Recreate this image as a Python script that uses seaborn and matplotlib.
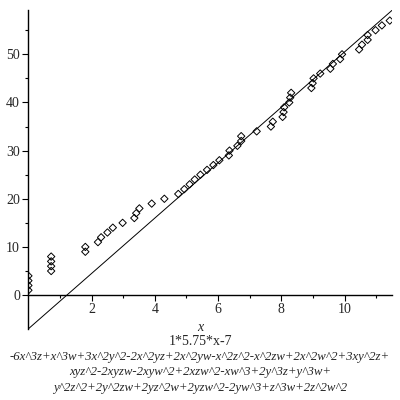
import matplotlib
matplotlib.use("Agg")
import matplotlib.pyplot as plt
import seaborn as sns
import numpy as np

# data: y is the running count, x the value
pts_x = [0, 0, 0, 0, 0.72, 0.72, 0.72, 0.72, 1.8, 1.8,
         2.2, 2.3, 2.5, 2.67, 2.98, 3.35, 3.41, 3.51, 3.9, 4.3,
         4.74, 4.93, 5.1, 5.26, 5.44, 5.65, 5.85, 6.04, 6.34, 6.36,
         6.61, 6.73, 6.73, 7.22, 7.67, 7.73, 8.04, 8.07, 8.09, 8.25,
         8.28, 8.31, 8.95, 8.99, 9.02, 9.23, 9.55, 9.63, 9.86, 9.92,
         10.46, 10.55, 10.73, 10.73, 10.98, 11.18, 11.43]
pts_y = list(range(1, 58))

line_x = [0, 11.5]
line_y = [-7.0, 59.125]   # 1*5.75*x-7

title_lines = [
    "1*5.75*x-7",
    "-6x^3z+x^3w+3x^2y^2-2x^2yz+2x^2yw-x^2z^2-x^2zw+2x^2w^2+3xy^2z+",
    "xyz^2-2xyzw-2xyw^2+2xzw^2-xw^3+2y^3z+y^3w+",
    "y^2z^2+2y^2zw+2yz^2w+2yzw^2-2yw^3+z^3w+2z^2w^2",
]

sns.set_style("white")
plt.rcParams["font.family"] = ["Liberation Serif", "DejaVu Serif"]

fig = plt.figure(figsize=(4, 4), dpi=100)
ax = fig.add_axes([0.071, 0.178, 0.909, 0.797])

sns.lineplot(x=line_x, y=line_y, color="black", linewidth=0.7, ax=ax)
sns.scatterplot(x=pts_x, y=pts_y, marker="D", s=14, facecolor="none",
                edgecolor="black", linewidth=0.7, ax=ax)

ax.set_xlim(0, 11.5)
ax.set_ylim(-7, 59.2)

# Maple style axes crossing at the origin
ax.spines["left"].set_position(("data", 0))
ax.spines["bottom"].set_position(("data", 0))
ax.spines["right"].set_visible(False)
ax.spines["top"].set_visible(False)
for s in ["left", "bottom"]:
    ax.spines[s].set_linewidth(1.0)
    ax.spines[s].set_color("black")

ax.set_xticks([2, 4, 6, 8, 10])
ax.set_xticks([1, 3, 5, 7, 9, 11], minor=True)
ax.set_yticks([0, 10, 20, 30, 40, 50])
ax.set_yticks([5, 15, 25, 35, 45, 55], minor=True)
ax.tick_params(which="major", direction="out", length=4, width=0.8,
               labelsize=10, pad=2, color="black")
ax.tick_params(which="minor", direction="out", length=2.5, width=0.8,
               color="black")
ax.tick_params(axis="both", which="both", bottom=True, left=True)

fig.text(0.5, 0.182, "x", ha="center", va="center", fontsize=10,
         style="italic")
for i, line in enumerate(title_lines):
    fig.text(0.5, 0.147 - i * 0.039, line, ha="center", va="center",
             fontsize=10 if i == 0 else 9.2,
             style="italic" if i > 0 else "normal")

fig.savefig("out.png", dpi=100)
plt.close(fig)
